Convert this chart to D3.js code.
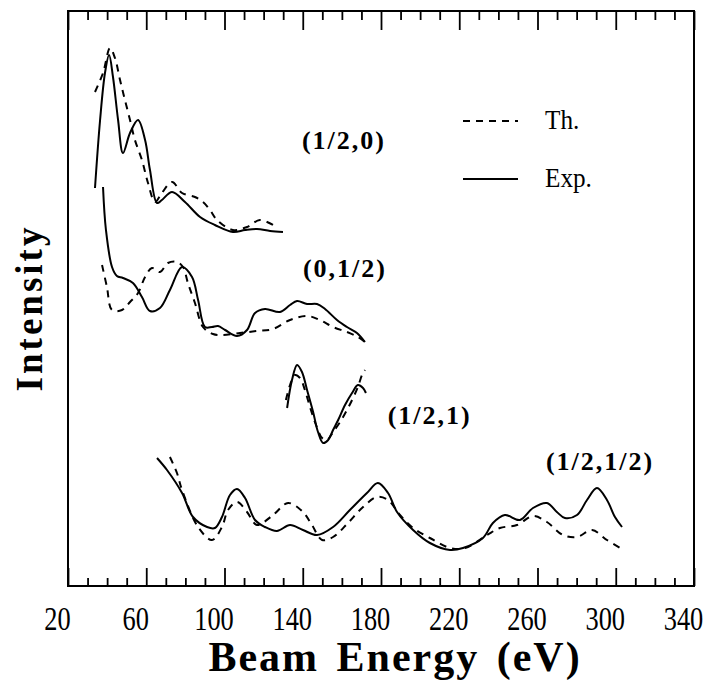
<!DOCTYPE html>
<html>
<head>
<meta charset="utf-8">
<script src="https://cdn.jsdelivr.net/npm/d3@7"></script>
<style>
  body { margin: 0; background: white; }
  svg { display: block; }
</style>
</head>
<body>
<div id="chart"></div>
<script>
const WIDTH = 712, HEIGHT = 683;

// axis values
const tick_labels = [20, 60, 100, 140, 180, 220, 260, 300, 340];
const minor_ticks = d3.range(20, 341, 10);

// (1/2,0) beam
const hz_exp_E = [33.8, 36.4, 38.9, 41.0, 43.0, 45.6, 48.1, 51.7, 55.8, 59.4, 61.9, 65.5, 68.0, 73.2, 79.8, 87.5, 95.1, 104.3, 110.5, 116.6, 123.3, 129.9];
const hz_exp_I = [79.6, 93.2, 102.6, 106.2, 101.8, 93.2, 86.6, 90.6, 93.2, 89.2, 83.2, 76.6, 77.2, 78.8, 76.8, 73.8, 72.2, 70.8, 71.2, 71.4, 71.0, 70.8];
const hz_th_E = [33.8, 37.9, 41.5, 44.0, 46.6, 49.1, 51.7, 54.2, 57.8, 60.9, 64.5, 68.0, 73.2, 78.3, 84.9, 89.0, 92.6, 96.2, 104.3, 111.5, 118.1, 124.8];
const hz_th_I = [98.8, 102.6, 107.6, 105.6, 101.2, 97.2, 93.2, 89.2, 85.2, 80.6, 76.8, 78.6, 80.8, 78.6, 77.8, 76.8, 75.2, 73.2, 71.2, 71.8, 73.2, 72.2];

// (0,1/2) beam
const zh_exp_E = [37.9, 39.4, 42.5, 45.0, 48.1, 53.2, 57.8, 61.9, 67.0, 72.1, 78.3, 83.4, 86.5, 90.0, 93.6, 96.7, 100.3, 106.4, 111.5, 115.6, 120.7, 128.4, 133.5, 137.1, 142.2, 147.3, 151.4, 157.5, 162.6, 167.7, 171.8];
const zh_exp_I = [79.8, 71.2, 63.8, 62.0, 61.6, 60.6, 57.8, 55.0, 55.6, 59.2, 63.8, 61.8, 57.2, 51.8, 51.8, 52.0, 51.2, 50.0, 51.2, 54.6, 55.4, 54.8, 56.2, 57.0, 56.4, 56.4, 55.4, 53.2, 51.8, 50.6, 48.8];
const zh_th_E = [37.4, 39.9, 42.5, 47.6, 51.7, 55.8, 59.4, 62.9, 67.0, 71.1, 75.7, 78.8, 81.3, 84.9, 89.0, 94.1, 99.2, 107.9, 116.6, 124.8, 133.5, 142.2, 148.8, 155.5, 162.6, 168.2, 171.8];
const zh_th_I = [64.2, 59.8, 55.2, 55.2, 56.8, 58.6, 61.8, 63.6, 62.8, 64.6, 64.8, 63.8, 60.6, 56.6, 51.8, 50.4, 50.2, 50.6, 51.0, 51.4, 53.2, 54.0, 53.2, 51.8, 50.8, 49.8, 48.8];

// (1/2,1) beam
const ho_exp_E = [132.0, 134.5, 137.1, 139.6, 142.2, 145.3, 147.8, 150.4, 153.0, 155.5, 158.1, 161.6, 165.2, 168.2, 170.8, 172.3];
const ho_exp_I = [35.6, 41.2, 44.2, 42.8, 39.2, 34.8, 30.8, 28.6, 29.2, 31.2, 33.2, 36.2, 38.6, 40.2, 39.6, 38.6];
const ho_th_E = [131.4, 133.5, 136.0, 138.6, 141.1, 143.7, 146.8, 149.9, 152.4, 155.5, 159.1, 162.6, 165.7, 168.2, 170.3, 171.8];
const ho_th_I = [37.2, 40.2, 42.2, 41.6, 39.2, 35.8, 32.2, 29.6, 29.2, 30.8, 32.8, 35.2, 37.6, 39.8, 42.2, 43.2];

// (1/2,1/2) beam
const hh_exp_E = [65.5, 70.6, 78.3, 83.9, 91.1, 95.1, 98.7, 102.8, 106.4, 110.5, 115.6, 120.7, 126.8, 133.5, 140.1, 147.3, 155.5, 164.1, 172.8, 178.4, 183.6, 188.2, 196.4, 205.0, 215.3, 221.9, 232.1, 237.2, 243.3, 251.0, 257.7, 264.8, 269.9, 274.0, 280.2, 285.3, 290.4, 295.5, 299.6, 303.2];
const hh_exp_I = [25.6, 23.2, 18.6, 13.8, 11.8, 11.6, 13.8, 18.2, 19.4, 17.6, 13.2, 11.8, 11.0, 12.2, 11.2, 10.2, 11.8, 15.2, 18.6, 20.6, 18.6, 14.8, 11.2, 8.6, 7.2, 7.6, 9.6, 12.6, 14.2, 13.2, 15.6, 16.6, 14.8, 13.6, 14.2, 17.2, 19.6, 17.2, 13.8, 11.8];
const hh_th_E = [72.1, 75.7, 78.3, 86.5, 93.6, 98.7, 101.8, 106.4, 111.5, 116.6, 124.8, 132.5, 140.1, 144.7, 149.9, 155.5, 163.1, 170.3, 177.9, 183.6, 189.7, 196.4, 205.0, 215.3, 223.0, 234.2, 240.8, 249.5, 257.7, 264.8, 273.0, 280.2, 287.9, 295.5, 303.2];
const hh_th_I = [25.8, 22.6, 19.2, 11.8, 9.2, 11.8, 15.2, 16.8, 14.8, 12.2, 14.2, 16.6, 14.8, 12.2, 9.2, 9.8, 12.6, 15.6, 17.8, 17.2, 14.2, 11.6, 9.6, 7.6, 7.6, 10.2, 11.6, 12.2, 14.0, 12.8, 10.2, 9.8, 11.2, 9.2, 7.4];

// beam labels, placed in data units
const beam_names = ["(1/2,0)", "(0,1/2)", "(1/2,1)", "(1/2,1/2)"];
const beam_label_E = [139.6, 140.1, 183.4, 264.3];
const beam_label_I = [87.4, 61.8, 32.4, 23.2];

const SERIF = "'Liberation Serif', 'Times New Roman', serif";

const svg = d3.select("#chart").append("svg").attr("width", WIDTH).attr("height", HEIGHT)

const x_scale = d3.scaleLinear().domain([20, 340]).range([68, 694])
const y_scale = d3.scaleLinear().domain([0, 115]).range([586, 11])

// frame
svg.append("rect").attr("x", x_scale(20)).attr("y", y_scale(115))
  .attr("width", x_scale(340) - x_scale(20)).attr("height", y_scale(0) - y_scale(115))
  .attr("fill", "none").attr("stroke", "black").attr("stroke-width", 2)

// ticks, pointing inwards on top and bottom
const majors = tick_labels
const minors = minor_ticks.filter(v => majors.indexOf(v) < 0)
function tickAxis(gen, vals, size, ty) {
  const g = svg.append("g").attr("transform", "translate(0," + ty + ")")
    .call(gen(x_scale).tickValues(vals).tickSize(size).tickFormat(""))
  g.select(".domain").remove()
  g.selectAll("line").attr("stroke", "black").attr("stroke-width", 1.8)
}
tickAxis(d3.axisBottom, majors, -18, y_scale(0))
tickAxis(d3.axisBottom, minors, -8, y_scale(0))
tickAxis(d3.axisTop, majors, -19, y_scale(115))
tickAxis(d3.axisTop, minors, -9, y_scale(115))

// tick labels (slightly left of the ticks, as in the print)
const lab = svg.append("g").attr("transform", "translate(-11,630)")
  .call(d3.axisBottom(x_scale).tickValues(tick_labels).tickSize(0).tickFormat(d3.format("d")))
lab.select(".domain").remove()
lab.selectAll("text").attr("y", 0).attr("dy", 0)
  .attr("transform", "scale(0.8,1)")
  .style("font-family", SERIF).style("font-size", "33px").attr("fill", "black")

// axis titles
svg.append("text").attr("x", 395).attr("y", 671).attr("text-anchor", "middle")
  .style("font-family", SERIF).style("font-weight", "bold").style("font-size", "42px")
  .style("letter-spacing", "2px").style("word-spacing", "5px")
  .text("Beam Energy (eV)")
svg.append("text").attr("transform", "translate(42,308) rotate(-90)").attr("text-anchor", "middle")
  .style("font-family", SERIF).style("font-weight", "bold").style("font-size", "37px")
  .style("letter-spacing", "3px")
  .text("Intensity")

// curves
const line = d3.line().x(d => x_scale(d[0])).y(d => y_scale(d[1])).curve(d3.curveCatmullRom.alpha(0.5))
const curves = [
  [hz_exp_E, hz_exp_I, false], [hz_th_E, hz_th_I, true],
  [zh_exp_E, zh_exp_I, false], [zh_th_E, zh_th_I, true],
  [ho_exp_E, ho_exp_I, false], [ho_th_E, ho_th_I, true],
  [hh_exp_E, hh_exp_I, false], [hh_th_E, hh_th_I, true]
]
curves.forEach(c => {
  const pts = c[0].map((e, i) => [e, c[1][i]])
  svg.append("path").attr("d", line(pts)).attr("fill", "none").attr("stroke", "black")
    .attr("stroke-width", 2).attr("stroke-dasharray", c[2] ? "7,6" : null)
})

// beam labels
beam_names.forEach((name, i) => {
  svg.append("text").attr("x", x_scale(beam_label_E[i])).attr("y", y_scale(beam_label_I[i]))
    .style("font-family", SERIF).style("font-weight", "bold").style("font-size", "26px")
    .style("letter-spacing", "2px").text(name)
})

// legend
const legend = [["Th.", true, 121], ["Exp.", false, 179]]
legend.forEach(row => {
  svg.append("line").attr("x1", 463).attr("x2", 518).attr("y1", row[2]).attr("y2", row[2])
    .attr("stroke", "black").attr("stroke-width", 2).attr("stroke-dasharray", row[1] ? "7,6" : null)
  svg.append("text").attr("transform", "translate(545," + (row[2] + 8) + ") scale(0.9,1)")
    .style("font-family", SERIF).style("font-size", "28px").text(row[0])
})
</script>
</body>
</html>
